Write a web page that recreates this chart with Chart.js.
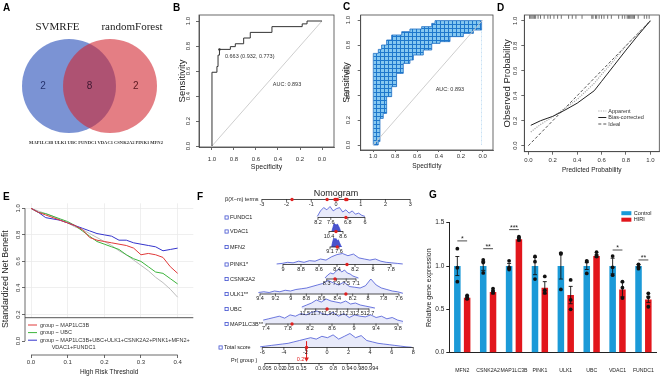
<!DOCTYPE html>
<html>
<head>
<meta charset="utf-8">
<title>Autophagy gene model</title>
<script src="https://cdn.jsdelivr.net/npm/chart.js@4.4.1/dist/chart.umd.min.js"></script>
<style>
  html, body { margin: 0; padding: 0; background: #fff; }
  #fig { position: relative; width: 661px; height: 377px; overflow: hidden; }
  #fig canvas { position: absolute; }
  .tag { position: absolute; font: bold 10px 'Liberation Sans', Arial, sans-serif; color: #000; line-height: 10px; }
</style>
</head>
<body>
<div id="fig">
  <canvas id="chartA" width="170" height="180" style="left:0;top:0"></canvas>
  <canvas id="chartB" width="166" height="180" style="left:170px;top:0"></canvas>
  <canvas id="chartC" width="160" height="180" style="left:336px;top:0"></canvas>
  <canvas id="chartD" width="165" height="180" style="left:496px;top:0"></canvas>
  <canvas id="chartE" width="215" height="192" style="left:0;top:185px"></canvas>
  <canvas id="chartF" width="213" height="192" style="left:215px;top:185px"></canvas>
  <canvas id="chartG" width="236" height="192" style="left:425px;top:185px"></canvas>
  <div class="tag" style="left:3px;top:3px">A</div>
  <div class="tag" style="left:173px;top:3px">B</div>
  <div class="tag" style="left:343px;top:2px">C</div>
  <div class="tag" style="left:497px;top:3px">D</div>
  <div class="tag" style="left:3px;top:192px">E</div>
  <div class="tag" style="left:197px;top:192px">F</div>
  <div class="tag" style="left:429px;top:190px">G</div>
</div>
<script>
// ---------- data ----------
// A: genes picked by both methods
const vennSets = ['SVMRFE', 'randomForest'];
const vennOnly = [2, 2];
const vennShared = 8;
const vennGenes = ['MAP1LC3B', 'ULK1', 'UBC', 'FUNDC1', 'VDAC1', 'CSNK2A2', 'PINK1', 'MFN2'];

// B: ROC of the model (step corners)
const rocSpec = [1.0, 1.0, 0.955, 0.945, 0.932, 0.833, 0.788, 0.712, 0.652, 0.455, 0.18, 0.136, 0.0];
const rocSens = [0.0, 0.59, 0.636, 0.727, 0.773, 0.795, 0.818, 0.864, 0.909, 0.955, 0.977, 1.0, 1.0];
const rocAuc = 0.893;
const bestCut = [0.663, 0.932, 0.773];

// C: bootstrap confidence band of the ROC
const ciHiSpec = [1.0, 1.0, 0.954, 0.924, 0.878, 0.832, 0.74, 0.665, 0.558, 0.466, 0.436, 0.01];
const ciHiSens = [0.0, 0.733, 0.765, 0.8, 0.84, 0.88, 0.907, 0.928, 0.947, 0.973, 0.995, 0.995];
const ciLoSpec = [1.0, 0.955, 0.939, 0.909, 0.878, 0.832, 0.787, 0.726, 0.665, 0.634, 0.543, 0.466, 0.39, 0.299, 0.177, 0.085, 0.01, 0.01];
const ciLoSens = [0.0, 0.027, 0.213, 0.253, 0.387, 0.467, 0.573, 0.653, 0.68, 0.72, 0.76, 0.813, 0.827, 0.867, 0.893, 0.92, 0.96, 0.995];

// D: calibration
const calPred = [0.02, 0.1, 0.2, 0.3, 0.4, 0.54, 0.6, 0.7, 0.8, 0.9, 1.0];
const calApparent = [0.11, 0.17, 0.23, 0.3, 0.37, 0.5, 0.57, 0.68, 0.8, 0.9, 1.0];
const calBias = [0.163, 0.2, 0.235, 0.285, 0.34, 0.44, 0.515, 0.64, 0.765, 0.885, 1.0];
const calIdeal = [0, 1];
const rugPred = [0.01, 0.02, 0.03, 0.04, 0.05, 0.06, 0.08, 0.1, 0.13, 0.16, 0.18, 0.21, 0.24, 0.27, 0.33, 0.36, 0.39, 0.44,
  0.52, 0.53, 0.55, 0.56, 0.58, 0.6, 0.62, 0.65, 0.68, 0.74, 0.77, 0.79, 0.81, 0.82, 0.83, 0.84, 0.85, 0.86, 0.87, 0.9, 0.95, 0.97, 0.99];

// E: decision curves
const dcaThr = [0, 0.02, 0.04, 0.06, 0.08, 0.1, 0.12, 0.14, 0.16, 0.18, 0.2, 0.22, 0.24, 0.26, 0.28, 0.3, 0.32, 0.34, 0.36, 0.38, 0.4];
const dcaMap1lc3b = [1.0, 0.97, 0.95, 0.93, 0.91, 0.89, 0.87, 0.84, 0.78, 0.76, 0.75, 0.74, 0.73, 0.72, 0.7, 0.65, 0.66, 0.65, 0.63, 0.56, 0.51];
const dcaUbc = [1.0, 0.97, 0.96, 0.94, 0.92, 0.9, 0.87, 0.83, 0.79, 0.75, 0.73, 0.71, 0.69, 0.65, 0.62, 0.6, 0.56, 0.52, 0.51, 0.47, 0.43];
const dcaFull = [1.0, 0.97, 0.93, 0.92, 0.91, 0.89, 0.87, 0.85, 0.83, 0.81, 0.8, 0.79, 0.76, 0.76, 0.74, 0.73, 0.72, 0.71, 0.68, 0.69, 0.7];
const dcaAll = [1.0, 0.98, 0.96, 0.94, 0.91, 0.89, 0.86, 0.84, 0.81, 0.78, 0.75, 0.72, 0.68, 0.65, 0.61, 0.57, 0.53, 0.48, 0.44, 0.39, 0.33];
const dcaNames = [['group ~ MAP1LC3B'], ['group ~ UBC'], ['group ~ MAP1LC3B+UBC+ULK1+CSNK2A2+PINK1+MFN2+', 'VDAC1+FUNDC1']];

// F: nomogram
const nomoVars = ['FUNDC1', 'VDAC1', 'MFN2', 'PINK1*', 'CSNK2A2', 'ULK1**', 'UBC', 'MAP1LC3B**'];
const nomoCoef = [-0.864, -0.315, -0.243, -3.644, -0.989, -3.126, 2.159, 2.227];
const nomoMean = [7.355, 9.5, 8.1, 8.411, 7.919, 8.416, 12.081, 8.673];
const nomoTicks = [[8.2, 7.6, 6.8, 6], [10.4, 8.6], [9.1, 7.6], [9, 8.8, 8.6, 8.4, 8.2, 8, 7.8], [8.3, 7.9, 7.5, 7.1],
  [9.4, 9.2, 9, 8.8, 8.6, 8.4, 8.2, 8, 7.8, 7.6], [11.5, 11.7, 11.9, 12.1, 12.3, 12.5, 12.7], [7.4, 7.8, 8.2, 8.6, 9, 9.4, 9.8]];
const nomoPatient = [6.89, 9.5, 7.89, 8.289, 7.96, 8.288, 11.914, 7.874];
const nomoDensFrom = [8.23, 10.04, 8.84, 9.07, 8.37, 9.42, 11.44, 7.35];
const nomoDensTo = [6.0, 8.9, 7.15, 7.67, 7.0, 7.55, 12.81, 9.89];
const nomoDens = [
  [0.1, 0.6, 0.9, 0.7, 1.0, 0.6, 0.8, 0.9, 0.5, 0.7, 0.4, 0.6, 0.3, 0.4, 0.2, 0.1],
  [0, 0.5, 1, 0.9, 0.8, 0.95, 0.7, 0.4, 0],
  [0, 0.6, 1, 0.85, 0.95, 0.7, 0.8, 0.5, 0.2, 0],
  [0.05, 0.1, 0.2, 0.15, 0.3, 0.2, 0.35, 0.3, 0.5, 0.4, 0.7, 0.9, 1.0, 0.8, 0.95, 0.6, 0.5, 0.4, 0.5, 0.3, 0.2, 0.15, 0.1, 0.05],
  [0.1, 0.4, 0.6, 0.5, 0.8, 1.0, 0.7, 0.9, 0.6, 0.5, 0.3, 0.2, 0.1],
  [0.1, 0.15, 0.1, 0.2, 0.15, 0.25, 0.2, 0.3, 0.35, 0.4, 0.5, 0.6, 0.7, 0.9, 0.75, 0.6, 0.8, 0.5, 0.45, 0.4, 0.55, 1.0, 0.6, 0.4, 0.3, 0.2, 0.15, 0.05],
  [0.2, 0.4, 0.6, 0.9, 0.7, 1.0, 0.8, 0.7, 0.6, 0.8, 0.5, 0.6, 0.4, 0.3, 0.2, 0.1],
  [0.3, 0.4, 0.5, 0.6, 0.45, 0.7, 0.6, 0.8, 0.7, 0.9, 1.0, 0.8, 0.7, 0.9, 0.6, 0.8, 0.5, 0.7, 0.6, 0.55, 0.7, 0.5, 0.6, 0.4, 0.5, 0.3, 0.2]
];
const betaTicks = [-3, -2, -1, 0, 1, 2, 3];
const totalTicks = [-6, -4, -2, 0, 2, 4, 6, 8];
const totalDensFrom = -6.2, totalDensTo = 7.85;
const totalDens = [0.05, 0.1, 0.15, 0.2, 0.25, 0.3, 0.4, 0.5, 0.6, 0.7, 0.6, 0.8, 0.7, 0.9, 0.6, 0.8, 1.0, 0.7, 0.85, 0.5, 0.4, 0.3, 0.25, 0.2, 0.15, 0.1, 0.05, 0.02];
const prTicks = [0.005, 0.02, 0.05, 0.15, 0.5, 0.8, 0.94, 0.98, 0.994];
const patientTotal = -1.9;
const patientPr = 0.2;

// G: qPCR
const geneLabels = ['MFN2', 'CSNK2A2', 'MAP1LC3B', 'PINK1', 'ULK1', 'UBC', 'VDAC1', 'FUNDC1'];
const ctrlMean = [1, 1, 1, 1, 1, 1, 1, 1];
const ctrlSem = [0.11, 0.05, 0.03, 0.1, 0.15, 0.04, 0.09, 0.015];
const hiriMean = [0.635, 0.7, 1.31, 0.75, 0.665, 1.115, 0.73, 0.615];
const hiriSem = [0.02, 0.02, 0.02, 0.07, 0.1, 0.015, 0.085, 0.035];
const ctrlDots = [[1.2, 0.98, 0.82], [1.07, 1.04, 0.92], [1.06, 0.985, 0.96], [1.11, 1.05, 0.85], [1.15, 1.14, 0.73], [1.06, 1.05, 0.915], [1.115, 0.985, 0.895], [1.02, 0.99, 0.97]];
const hiriDots = [[0.66, 0.64, 0.62], [0.74, 0.71, 0.69], [1.34, 1.32, 1.3], [0.88, 0.72, 0.69], [0.84, 0.61, 0.5], [1.16, 1.12, 1.11], [0.82, 0.75, 0.63], [0.685, 0.64, 0.53]];
const sigMarks = ['*', '**', '***', '', '', '', '*', '**'];
const sigLevel = [1.29, 1.2, 1.42, null, null, null, 1.185, 1.07];

// ---------- common ----------
const SANS = "'Liberation Sans', Arial, sans-serif";
Chart.defaults.font.family = SANS;
Chart.defaults.color = '#333';
Chart.defaults.animation = false;
Chart.defaults.responsive = false;
Chart.defaults.events = [];
Chart.defaults.layout.autoPadding = false;
Chart.defaults.plugins.legend.display = false;
Chart.defaults.plugins.tooltip.enabled = false;
Chart.defaults.elements.point.radius = 0;
Chart.defaults.elements.point.hoverRadius = 0;
Chart.defaults.elements.line.borderWidth = 1;

const pts = (xs, ys) => xs.map((x, i) => ({ x: x, y: ys[i] }));

function rAxis(o) {
  return {
    type: 'linear', min: o.min, max: o.max, reverse: !!o.reverse,
    afterBuildTicks: s => { s.ticks = o.ticks.map(v => ({ value: v })); },
    afterFit: s => { if (s.isHorizontal()) s.height = o.size; else s.width = o.size; },
    grid: { drawOnChartArea: !!o.gridColor, color: o.gridColor || '#444', tickColor: '#444', tickLength: o.tick == null ? 3 : o.tick, lineWidth: 0.8 },
    border: { display: o.border !== false, color: '#444', width: 0.8 },
    ticks: { display: !!o.labels, font: { size: 6 }, color: '#333', padding: o.pad || 0, maxRotation: 0, callback: v => v.toFixed(1) },
    title: { display: true, text: o.title, font: { size: o.tsize }, color: '#222', padding: o.tpad }
  };
}

// box round the plot region (R style)
Chart.register({
  id: 'box',
  afterDraw(chart, args, o) {
    if (!o.on) return;
    const a = chart.chartArea, c = chart.ctx;
    c.save(); c.strokeStyle = '#444'; c.lineWidth = 0.8;
    c.strokeRect(a.left, a.top, a.right - a.left, a.bottom - a.top);
    c.restore();
  }
});

// y tick labels turned 90 degrees like base R
Chart.register({
  id: 'rotY',
  afterDraw(chart, args, o) {
    if (!o.offset) return;
    const s = chart.scales.y, c = chart.ctx;
    c.save();
    c.font = '6px ' + SANS; c.fillStyle = '#333'; c.textAlign = 'center'; c.textBaseline = 'middle';
    s.ticks.forEach(t => {
      c.save();
      c.translate(chart.chartArea.left - o.offset, s.getPixelForValue(t.value));
      c.rotate(-Math.PI / 2);
      c.fillText(t.value.toFixed(1), 0, 0);
      c.restore();
    });
    c.restore();
  }
});

// axis lines only over the tick range
Chart.register({
  id: 'axisLines',
  afterDraw(chart, args, o) {
    if (!o.on) return;
    const c = chart.ctx, xs = chart.scales.x, ys = chart.scales.y, a = chart.chartArea;
    const xt = xs.ticks, yt = ys.ticks;
    c.save(); c.strokeStyle = '#444'; c.lineWidth = 0.8; c.beginPath();
    c.moveTo(a.left, ys.getPixelForValue(yt[0].value)); c.lineTo(a.left, ys.getPixelForValue(yt[yt.length - 1].value));
    c.moveTo(xs.getPixelForValue(xt[0].value), a.bottom); c.lineTo(xs.getPixelForValue(xt[xt.length - 1].value), a.bottom);
    c.stroke(); c.restore();
  }
});

// free text at data coordinates
Chart.register({
  id: 'notes',
  afterDatasetsDraw(chart, args, o) {
    if (!o.items) return;
    const c = chart.ctx;
    c.save(); c.textBaseline = 'middle';
    o.items.forEach(n => {
      c.font = (n.size || 5.5) + 'px ' + SANS; c.fillStyle = n.color || '#333'; c.textAlign = n.align || 'center';
      c.fillText(n.text, chart.scales.x.getPixelForValue(n.x), chart.scales.y.getPixelForValue(n.y));
    });
    c.restore();
  }
});

// ---------- A: Venn ----------
const vennLayout = { cx: [69, 110], cy: 86, r: 47 };
new Chart('chartA', {
  type: 'bubble',
  data: { datasets: [
    { data: [{ x: vennLayout.cx[1], y: vennLayout.cy, r: vennLayout.r }], backgroundColor: 'rgba(210,40,50,0.6)', borderWidth: 0, clip: false },
    { data: [{ x: vennLayout.cx[0], y: vennLayout.cy, r: vennLayout.r }], backgroundColor: 'rgba(72,105,195,0.72)', borderWidth: 0, clip: false }
  ] },
  options: {
    layout: { padding: 0 },
    scales: { x: { display: false, min: 0, max: 170 }, y: { display: false, min: 0, max: 180, reverse: true } }
  },
  plugins: [{
    id: 'vennText',
    afterDatasetsDraw(chart) {
      const c = chart.ctx, px = v => chart.scales.x.getPixelForValue(v), py = v => chart.scales.y.getPixelForValue(v);
      const [l, r] = vennLayout.cx, cy = vennLayout.cy, rad = vennLayout.r;
      c.save(); c.textAlign = 'center'; c.textBaseline = 'middle';
      c.font = "11px 'Liberation Serif', 'Times New Roman', serif"; c.fillStyle = '#222';
      c.fillText(vennSets[0], px(l - 11.5), py(27));
      c.fillText(vennSets[1], px(r + 22), py(27));
      c.font = '10px ' + SANS;
      c.fillStyle = '#26336e'; c.fillText(String(vennOnly[0]), px(l - rad * 0.55), py(cy));
      c.fillStyle = '#3d1730'; c.fillText(String(vennShared), px((l + r) / 2), py(cy));
      c.fillStyle = '#5c1820'; c.fillText(String(vennOnly[1]), px(r + rad * 0.55), py(cy));
      const txt = vennGenes.join(' ');
      c.font = "bold 5px 'Liberation Serif', serif";
      const size = 5 * 134 / c.measureText(txt).width;
      c.font = 'bold ' + size.toFixed(2) + "px 'Liberation Serif', serif"; c.fillStyle = '#333';
      c.fillText(txt, px(96), py(143));
      c.restore();
    }
  }]
});

// ---------- B: ROC ----------
const yTicks = [0, 0.2, 0.4, 0.6, 0.8, 1.0];
new Chart('chartB', {
  type: 'scatter',
  data: { datasets: [
    { data: [{ x: bestCut[1], y: bestCut[2] }], pointRadius: 1.2, pointBackgroundColor: '#333', pointBorderWidth: 0 },
    { data: pts(rocSpec, rocSens), showLine: true, stepped: true, borderColor: '#333', borderWidth: 1 },
    { data: pts([1, 0], [0, 1]), showLine: true, borderColor: '#c8c8c8', borderWidth: 0.9 }
  ] },
  options: {
    layout: { padding: { top: 15, right: 2 } },
    scales: {
      x: rAxis({ min: -0.109, max: 1.118, reverse: true, ticks: yTicks, size: 33, labels: true, pad: 6, title: 'Specificity', tsize: 7, tpad: { bottom: 9 } }),
      y: rAxis({ min: -0.008, max: 1.048, ticks: yTicks, size: 29, title: 'Sensitivity', tsize: 9.5, tpad: { top: 7 } })
    },
    plugins: {
      box: { on: true }, rotY: { offset: 11 },
      notes: { items: [
        { x: 0.882, y: 0.72, text: bestCut[0].toFixed(3) + ' (' + bestCut[1].toFixed(3) + ', ' + bestCut[2].toFixed(3) + ')', align: 'left' },
        { x: 0.318, y: 0.496, text: 'AUC: ' + rocAuc.toFixed(3) }
      ] }
    }
  }
});

// ---------- C: ROC with CI boxes ----------
const tile = document.createElement('canvas');
tile.width = 4; tile.height = 4;
const tc = tile.getContext('2d');
tc.fillStyle = '#86c8f0'; tc.fillRect(0, 0, 4, 4);
tc.fillStyle = '#1f78cc'; tc.fillRect(0, 0, 4, 1); tc.fillRect(0, 0, 1, 4);
const ciPattern = document.getElementById('chartC').getContext('2d').createPattern(tile, 'repeat');
new Chart('chartC', {
  type: 'scatter',
  data: { datasets: [
    { data: pts([1, 0], [0, 1]), showLine: true, borderColor: '#c8c8c8', borderWidth: 0.9 },
    { data: pts(ciLoSpec, ciLoSens), showLine: true, stepped: true, borderColor: '#1f6fc4', borderWidth: 0.8, backgroundColor: '#fff', fill: 'origin' },
    { data: pts(ciHiSpec, ciHiSens), showLine: true, stepped: true, borderColor: '#1f6fc4', borderWidth: 0.8, backgroundColor: ciPattern, fill: 'origin' }
  ] },
  options: {
    layout: { padding: { top: 15, right: 3 } },
    scales: {
      x: rAxis({ min: -0.094, max: 1.115, reverse: true, ticks: yTicks, size: 30, labels: true, pad: 1, tick: 2, title: 'Specificity', tsize: 6.5, tpad: { bottom: 10 } }),
      y: rAxis({ min: -0.04, max: 1.04, ticks: yTicks, size: 24.7, title: 'Sensitivity', tsize: 9, tpad: { top: 5.5 } })
    },
    plugins: {
      box: { on: true }, rotY: { offset: 12.4 },
      notes: { items: [{ x: 0.3, y: 0.448, text: 'AUC: ' + rocAuc.toFixed(3) }] }
    }
  }
});

// ---------- D: calibration ----------
const calKeys = [
  { text: 'Apparent', color: '#aaaaaa', dash: [1.2, 1.2], width: 1.2 },
  { text: 'Bias-corrected', color: '#222', dash: [], width: 1 },
  { text: 'Ideal', color: '#555', dash: [3, 2], width: 1 }
];
new Chart('chartD', {
  type: 'scatter',
  data: { datasets: [
    { data: rugPred.map(p => ({ x: p, y: 1.03 })), pointStyle: 'line', pointRotation: 90, pointRadius: 1.8, pointBorderColor: '#333', pointBorderWidth: 0.7 },
    { data: pts(calPred, calBias), showLine: true, borderColor: calKeys[1].color, borderWidth: 1 },
    { data: pts(calPred, calApparent), showLine: true, borderColor: calKeys[0].color, borderDash: calKeys[0].dash, borderWidth: 1.2 },
    { data: pts(calIdeal, calIdeal), showLine: true, borderColor: calKeys[2].color, borderDash: calKeys[2].dash, borderWidth: 1 }
  ] },
  options: {
    layout: { padding: { top: 15, right: 1.7 } },
    scales: {
      x: rAxis({ min: -0.033, max: 1.073, ticks: yTicks, size: 28.3, labels: true, pad: 2, title: 'Predicted Probability', tsize: 6.5, tpad: { bottom: 6 } }),
      y: rAxis({ min: -0.048, max: 1.046, ticks: yTicks, size: 28.3, title: 'Observed Probability', tsize: 9.5, tpad: { top: 5.3 } })
    },
    plugins: { box: { on: true }, rotY: { offset: 8.6 } }
  },
  plugins: [{
    id: 'calLegend',
    afterDraw(chart) {
      const c = chart.ctx, a = chart.chartArea;
      c.save(); c.font = '5.5px ' + SANS; c.textBaseline = 'middle'; c.fillStyle = '#333';
      calKeys.forEach((k, i) => {
        const y = a.bottom - 40.7 + i * 6.5;
        c.strokeStyle = k.color; c.lineWidth = k.width; c.setLineDash(k.dash);
        c.beginPath(); c.moveTo(a.right - 61, y); c.lineTo(a.right - 53, y); c.stroke();
        c.fillText(k.text, a.right - 51, y);
      });
      c.restore();
    }
  }]
});

// ---------- E: decision curves ----------
const dcaColors = ['#e03a3a', '#3cb43c', '#3434cc'];
new Chart('chartE', {
  type: 'scatter',
  data: { datasets: [
    { data: pts(dcaThr, dcaMap1lc3b), showLine: true, borderColor: dcaColors[0], borderWidth: 1 },
    { data: pts(dcaThr, dcaFull), showLine: true, borderColor: dcaColors[2], borderWidth: 1 },
    { data: pts(dcaThr, dcaUbc), showLine: true, borderColor: dcaColors[1], borderWidth: 1 },
    { data: pts(dcaThr, dcaAll), showLine: true, borderColor: '#bdbdbd', borderWidth: 1 }
  ] },
  options: {
    layout: { padding: { top: 18.3, right: 21.7 } },
    scales: {
      x: rAxis({ min: -0.0164, max: 0.4427, ticks: [0, 0.1, 0.2, 0.3, 0.4], size: 22, labels: true, pad: 1, gridColor: '#ebebeb', border: false, title: 'High Risk Threshold', tsize: 6.5, tpad: { bottom: 0.8 } }),
      y: rAxis({ min: -0.1055, max: 1.038, ticks: yTicks, size: 25, gridColor: '#ebebeb', border: false, title: 'Standardized Net Benefit', tsize: 8.8, tpad: { top: 0 } })
    },
    plugins: { rotY: { offset: 6.7 }, axisLines: { on: true } }
  },
  plugins: [{
    id: 'dcaLegend',
    afterDatasetsDraw(chart) {
      const c = chart.ctx, a = chart.chartArea, top = a.bottom - 37.3;
      c.save();
      c.fillStyle = '#fff'; c.fillRect(a.left + 0.5, top, a.right - a.left, a.bottom - top - 0.5);
      c.strokeStyle = '#444'; c.lineWidth = 0.9; c.beginPath(); c.moveTo(a.left, top); c.lineTo(a.right, top); c.stroke();
      c.font = '5.5px ' + SANS; c.textBaseline = 'middle'; c.fillStyle = '#333';
      let y = top + 7.3;
      dcaNames.forEach((lines, i) => {
        c.strokeStyle = dcaColors[i]; c.lineWidth = 1;
        c.beginPath(); c.moveTo(a.left + 3, y); c.lineTo(a.left + 12, y); c.stroke();
        lines.forEach((t, k) => c.fillText(t, a.left + (k ? 26.7 : 15), y + k * 7.4));
        y += 7.6 * lines.length;
      });
      c.restore();
    }
  }]
});

// ---------- F: nomogram ----------
const F_ROWY = [199.5, 217.5, 231.5, 247, 264.5, 279, 294, 309, 324, 347.5, 363.5];
const F_DENSH = [11, 8, 9, 11, 10, 15, 10, 13];
const F_TOTALH = 14;
const betaOf = (i, v) => nomoCoef[i] * (v - nomoMean[i]);
const scoreToBeta = s => -0.364 + 0.4363 * s;
const prToBeta = p => scoreToBeta(-0.74 + 0.95 * Math.log(p / (1 - p)));
const densPts = (from, to, heights, y, h) => heights.map((d, k) => ({ x: from + (to - from) * k / (heights.length - 1), y: y - d * h }));

const fRows = [];
fRows.push({ name: 'β(X−m) terms', nameX: 10, box: false, y: F_ROWY[0],
  ticks: betaTicks.map(b => ({ x: b, label: String(b) })),
  marks: nomoVars.map((_, i) => betaOf(i, nomoPatient[i])) });
nomoVars.forEach((name, i) => fRows.push({
  name: name, nameX: 15, box: true, y: F_ROWY[i + 1],
  ticks: nomoTicks[i].map(v => ({ x: betaOf(i, v), label: String(v) })),
  marks: [betaOf(i, nomoPatient[i])],
  dens: densPts(betaOf(i, nomoDensFrom[i]), betaOf(i, nomoDensTo[i]), nomoDens[i], F_ROWY[i + 1], F_DENSH[i]),
  fill: (i === 1 || i === 2) ? 'rgba(30,40,190,0.8)' : 'rgba(80,95,220,0.13)'
}));
fRows.push({ name: 'Total score', nameX: 9, box: true, y: F_ROWY[9],
  ticks: totalTicks.map(s => ({ x: scoreToBeta(s), label: String(s) })),
  marks: [scoreToBeta(patientTotal)],
  dens: densPts(scoreToBeta(totalDensFrom), scoreToBeta(totalDensTo), totalDens, F_ROWY[9], F_TOTALH),
  fill: 'rgba(80,95,220,0.13)' });
fRows.push({ name: 'Pr( group )', nameX: 16, nameDy: -3.5, box: false, y: F_ROWY[10],
  ticks: prTicks.map(p => ({ x: prToBeta(p), label: String(p) })), marks: [] });

const fSets = [];
const arrowX = scoreToBeta(patientTotal);
fSets.push({ data: [{ x: arrowX, y: F_ROWY[10] - 4.5 }], pointStyle: 'triangle', pointRotation: 180, pointRadius: 2.8, pointBackgroundColor: '#e02020', pointBorderWidth: 0 });
fSets.push({ data: [{ x: arrowX, y: F_ROWY[9] - 6 }, { x: arrowX, y: F_ROWY[10] - 3 }], showLine: true, borderColor: '#e02020', borderWidth: 1 });
fRows.forEach(r => {
  if (r.marks.length) fSets.push({ data: r.marks.map(b => ({ x: b, y: r.y })), pointRadius: 1.7, pointBackgroundColor: '#e02020', pointBorderWidth: 0 });
  fSets.push({ data: r.ticks.map(t => ({ x: t.x, y: r.y + 1 })), pointStyle: 'line', pointRotation: 90, pointRadius: 1.4, pointBorderColor: '#222', pointBorderWidth: 0.7 });
  fSets.push({ data: [{ x: r.ticks[0].x, y: r.y }, { x: r.ticks[r.ticks.length - 1].x, y: r.y }], showLine: true, borderColor: '#222', borderWidth: 0.8 });
  if (r.dens) fSets.push({ data: r.dens, showLine: true, borderColor: '#3040d0', borderWidth: 0.7, backgroundColor: r.fill, fill: { value: r.y } });
});

new Chart('chartF', {
  type: 'scatter',
  data: { datasets: fSets },
  options: {
    layout: { padding: { left: 40, right: 10, top: 0, bottom: 0 } },
    scales: {
      x: { type: 'linear', display: false, min: -3.277, max: 3.317 },
      y: { type: 'linear', display: false, min: 185, max: 377, reverse: true }
    }
  },
  plugins: [{
    id: 'nomoText',
    afterDatasetsDraw(chart) {
      const c = chart.ctx, xs = chart.scales.x, ys = chart.scales.y;
      c.save(); c.textBaseline = 'middle';
      c.font = '5.5px ' + SANS; c.fillStyle = '#1a1a1a'; c.textAlign = 'center';
      fRows.forEach(r => r.ticks.forEach(t => c.fillText(t.label, xs.getPixelForValue(t.x), ys.getPixelForValue(r.y + 4.5))));
      c.textAlign = 'left';
      fRows.forEach(r => {
        const y = ys.getPixelForValue(r.y + (r.nameDy || 0));
        if (r.box) { c.strokeStyle = '#4050d0'; c.lineWidth = 0.8; c.strokeRect(r.nameX - 5, y - 1.6, 3.2, 3.2); }
        c.fillText(r.name, r.nameX, y);
      });
      c.font = '9px ' + SANS; c.textAlign = 'center'; c.fillStyle = '#222';
      c.fillText('Nomogram', xs.getPixelForValue(0), ys.getPixelForValue(194));
      c.font = '5.5px ' + SANS; c.fillStyle = '#e02020';
      c.fillText(String(patientPr), xs.getPixelForValue(arrowX) - 6, ys.getPixelForValue(F_ROWY[10] - 4));
      c.restore();
    }
  }]
});

// ---------- G: relative expression ----------
const gColors = ['#1b9ad8', '#e2161c'];
new Chart('chartG', {
  type: 'bar',
  data: { labels: geneLabels, datasets: [
    { label: 'Control', data: ctrlMean, backgroundColor: gColors[0], categoryPercentage: 0.757, barPercentage: 0.667 },
    { label: 'HIRI', data: hiriMean, backgroundColor: gColors[1], categoryPercentage: 0.757, barPercentage: 0.667 }
  ] },
  options: {
    layout: { padding: { top: 37.7, right: 1 } },
    scales: {
      x: { afterFit: s => { s.height = 24.3; }, grid: { display: false }, border: { color: '#222', width: 1 },
        ticks: { font: { size: 5.2 }, color: '#222', padding: 7, maxRotation: 0, autoSkip: false } },
      y: { min: 0, max: 1.5, afterBuildTicks: s => { s.ticks = [0, 0.5, 1, 1.5].map(v => ({ value: v })); },
        afterFit: s => { s.width = 24.3; },
        grid: { drawOnChartArea: false, tickLength: 3, color: '#222' }, border: { color: '#222', width: 1 },
        ticks: { font: { size: 6.5 }, color: '#222', padding: 2, callback: v => v.toFixed(1) },
        title: { display: true, text: 'Relative gene expression', font: { size: 7 }, color: '#222', padding: { top: 0, bottom: 0 } } }
    }
  },
  plugins: [{
    id: 'gExtras',
    afterDatasetsDraw(chart) {
      const c = chart.ctx, ys = chart.scales.y, a = chart.chartArea;
      const m0 = chart.getDatasetMeta(0).data, m1 = chart.getDatasetMeta(1).data;
      c.save();
      [[m0, ctrlMean, ctrlSem, ctrlDots], [m1, hiriMean, hiriSem, hiriDots]].forEach(([meta, mean, sem, dots]) => {
        meta.forEach((bar, i) => {
          const x = bar.x, yt = ys.getPixelForValue(mean[i] + sem[i]), yb = ys.getPixelForValue(mean[i] - sem[i]);
          c.strokeStyle = '#111'; c.lineWidth = 0.9; c.beginPath();
          c.moveTo(x, yt); c.lineTo(x, yb);
          c.moveTo(x - 2, yt); c.lineTo(x + 2, yt); c.moveTo(x - 2, yb); c.lineTo(x + 2, yb);
          c.stroke();
          c.fillStyle = '#111';
          dots[i].forEach(v => { c.beginPath(); c.arc(x, ys.getPixelForValue(v), 1.9, 0, 2 * Math.PI); c.fill(); });
        });
      });
      c.font = '7px ' + SANS; c.textAlign = 'center'; c.textBaseline = 'bottom'; c.fillStyle = '#222';
      sigMarks.forEach((s, i) => {
        if (!s) return;
        const y = ys.getPixelForValue(sigLevel[i]);
        c.strokeStyle = '#222'; c.lineWidth = 0.8; c.beginPath(); c.moveTo(m0[i].x, y); c.lineTo(m1[i].x, y); c.stroke();
        c.fillText(s, (m0[i].x + m1[i].x) / 2, y + 2);
      });
      c.font = '5.5px ' + SANS; c.textAlign = 'left'; c.textBaseline = 'middle';
      chart.data.datasets.forEach((d, k) => {
        const y = a.top - 9.5 + k * 6.5;
        c.fillStyle = gColors[k]; c.fillRect(a.right - 35, y - 2, 10, 4);
        c.fillStyle = '#222'; c.fillText(d.label, a.right - 22.5, y);
      });
      c.restore();
    }
  }]
});
</script>
</body>
</html>
